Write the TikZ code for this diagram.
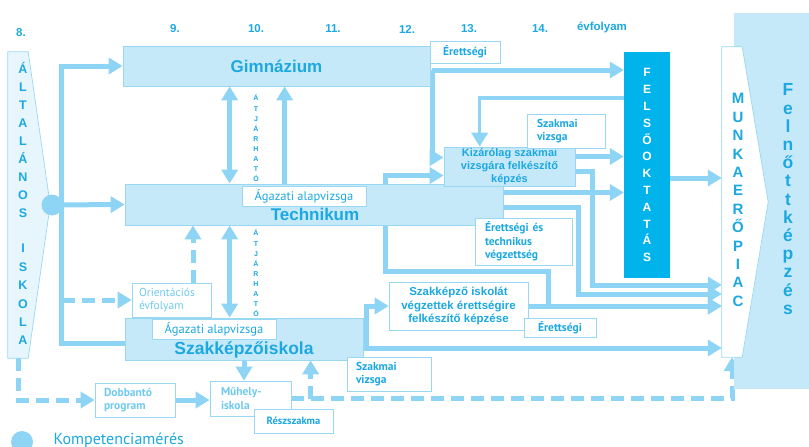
\documentclass[tikz,border=0pt]{standalone}
\usepackage{fontspec}
\setmainfont{Liberation Sans}
\newfontfamily\ptsans{PT Sans}
\usetikzlibrary{arrows.meta,calc}
\definecolor{arr}{HTML}{8DD4F5}
\definecolor{boxfill}{HTML}{C6E9F9}
\definecolor{boxline}{HTML}{98D8F3}
\definecolor{txt}{HTML}{1CA8E1}
\definecolor{pale}{HTML}{70CAEF}
\definecolor{felso}{HTML}{00B3EA}
\definecolor{altfill}{HTML}{E7F6FD}
\pgfdeclarelayer{bg}
\pgfsetlayers{bg,main}
\tikzset{
  box/.style={draw=boxline, fill=boxfill, line width=0.7pt, inner sep=0pt, text=txt},
  tag/.style={draw=boxline, fill=white, line width=0.7pt, inner ysep=0pt, text=txt,
    font=\ptsans\bfseries\fontsize{11.5}{13.5}\selectfont},
  flow/.style={draw=arr, line width=5pt, -{Triangle[length=14pt,width=16pt]}},
  both/.style={flow, {Triangle[length=14pt,width=16pt]}-{Triangle[length=14pt,width=16pt]}},
  dflow/.style={flow, dash pattern=on 13pt off 7pt},
  yr/.style={text=txt, font=\bfseries\fontsize{11.5}{13}\selectfont},
  vl/.style={inner sep=0pt, text height=1.5ex, text depth=0pt, text=txt,
    font=\bfseries\fontsize{12.5}{12.5}\selectfont},
}
\begin{document}
\begin{tikzpicture}[x=1pt,y=-1pt]
\useasboundingbox (0,0) rectangle (809,447);

% years
\node[yr] (yr0) at (21,33) {8.};
\foreach \x/\t [count=\i] in {175/9.,256/10.,333/11.,407/12.,469/13.,540/14.}
  \node[yr] (yr\i) at (\x,29) {\t};
\node[yr] (evf) at (602,27) {évfolyam};

% adult education
\node[fill=boxfill, minimum width=75, minimum height=376, inner sep=0pt] (felnott) at (771.5,201) {};
\foreach \c [count=\i from 0] in {F,e,l,n,ő,t,t,k,é,p,z,é,s}
  \node[vl, font=\bfseries\fontsize{17.5}{17.5}\selectfont] (fk\i) at (788,{92+18.2*\i}) {\c};

% labour market
\node[minimum width=20, minimum height=310, inner sep=0pt] (munka) at (732,202) {};
\draw[draw=boxline, fill=white, line width=0.7pt] (munka.north west) -- (munka.north east)
  -- ($(munka.east)+(26,0)$) -- (munka.south east) -- (munka.south west) -- cycle;
\foreach \c [count=\i from 0] in {M,U,N,K,A,E,R,Ő,P,I,A,C}
  \node[vl, font=\bfseries\fontsize{15}{15}\selectfont] (mp\i) at (738,{100+18.4*\i}) {\c};

% primary school
\node[minimum width=20, minimum height=306, inner sep=0pt] (alt) at (18,205) {};
\draw[draw=boxline, fill=altfill, line width=0.7pt] (alt.north west) -- (alt.north east)
  -- ($(alt.east)+(22,0)$) -- (alt.south east) -- (alt.south west) -- cycle;
\foreach \c [count=\i from 0] in {Á,L,T,A,L,Á,N,O,S}
  \node[vl] (ai\i) at (23,{70+18*\i}) {\c};
\foreach \c [count=\i from 0] in {I,S,K,O,L,A}
  \node[vl] (ak\i) at (23,{249+18.4*\i}) {\c};
\node[circle, fill=arr, minimum size=21, inner sep=0pt] (kompet) at (52,205) {};

% schools
\node[box, minimum width=307, minimum height=40, font=\bfseries\fontsize{17}{18}\selectfont] (gim) at (276.5,66) {Gimnázium};
\node[box, minimum width=378, minimum height=41] (tech) at (314,204.5) {};
\node[text=txt, font=\bfseries\fontsize{17}{18}\selectfont] (techlbl) at (315,214) {Technikum};
\node[box, minimum width=238, minimum height=42] (szk) at (244,339) {};
\node[text=txt, font=\bfseries\fontsize{17.5}{18}\selectfont] (szklbl) at (244,350) {Szakképzőiskola};
\node[box, minimum width=131, minimum height=39, align=center, font=\bfseries\fontsize{11}{13}\selectfont] (kiz) at (509.5,166.5) {Kizárólag szakmai\\vizsgára felkészítő\\képzés};
\node[fill=felso, minimum width=46, minimum height=226, inner sep=0pt] (felso) at (647,165) {};
\foreach \c [count=\i from 0] in {F,E,L,S,Ő,O,K,T,A,T,Á,S}
  \node[vl, text=white, font=\bfseries\fontsize{12}{12}\selectfont] (fo\i) at (647,{73+16.8*\i}) {\c};
\node[tag, minimum width=139, minimum height=48, align=center, font=\bfseries\fontsize{11.5}{13.5}\selectfont] (szki) at (458.5,306) {Szakképző iskolát\\végzettek érettségire\\felkészítő képzése};

% labels
\node[tag, minimum width=70, minimum height=22] (eretts1) at (465,52) {Érettségi};
\node[tag, minimum height=34, inner xsep=10pt, text width=58pt, align=left] (vizsga1) at (566,131) {Szakmai\\vizsga};
\node[tag, minimum width=124, minimum height=20, font=\ptsans\fontsize{12.5}{14}\selectfont] (agazat1) at (304,196) {Ágazati alapvizsga};
\node[tag, minimum height=47, inner xsep=10pt, text width=77pt, align=left] (erettes) at (523.5,241.5) {Érettségi és\\technikus\\végzettség};
\node[tag, minimum height=34, inner xsep=7pt, text width=65pt, align=left, text=pale, font=\ptsans\fontsize{11.5}{13.5}\selectfont] (orient) at (171.5,300) {Orientációs\\évfolyam};
\node[tag, minimum width=124, minimum height=20, font=\ptsans\fontsize{12.5}{14}\selectfont] (agazat2) at (214,329) {Ágazati alapvizsga};
\node[tag, minimum width=72, minimum height=19] (eretts2) at (560,327.5) {Érettségi};
\node[tag, minimum height=34, inner xsep=9pt, text width=66pt, align=left] (vizsga2) at (389,374) {Szakmai\\vizsga};
\node[tag, minimum height=34, inner xsep=9pt, text width=62pt, align=left, text=pale] (dobb) at (135,400) {Dobbantó\\program};
\node[tag, minimum height=35, inner xsep=11pt, text width=59pt, align=left, text=pale] (muhely) at (250.5,398.5) {Műhely-\\iskola};
\node[tag, minimum width=79, minimum height=24, font=\ptsans\bfseries\fontsize{10.5}{12}\selectfont] (resz) at (293.5,421) {Részszakma};

% permeable
\foreach \c [count=\i from 0] in {Á,T,J,Á,R,H,A,T,Ó} {
  \node[vl, font=\bfseries\fontsize{7}{7}\selectfont] (at\i) at (256,{97+10.1*\i}) {\c};
  \node[vl, font=\bfseries\fontsize{7}{7}\selectfont] (ab\i) at (256,{232+10.1*\i}) {\c};
}

% legend
\node[circle, fill=arr, minimum size=22, inner sep=0pt] (legdot) at (22,442) {};
\node[anchor=west, text=txt, font=\ptsans\fontsize{16}{18}\selectfont] (legtxt) at (50,440) {Kompetenciamérés};

\begin{pgfonlayer}{bg}
% from primary school
\coordinate (trunk) at ($(alt.east)+(34,0)$);
\coordinate (trunkbot) at ($(szk.west)+(-63,4)$);
\draw[flow] (trunkbot -| szk.west) -- (trunkbot) |- (gim.west);
\draw[flow] (kompet) -- (tech.west);
\draw[dflow] (trunk |- orient.west) -- (orient.west);
% gimnazium
\coordinate (gimout) at ($(gim.east)+(2,4)$);
\draw[flow] (gimout) -- (gimout -| felso.west);
\coordinate (kizin1) at ($(kiz.west)+(0,-9)$);
\draw[flow] (gimout) |- (kizin1);
\coordinate (felsoback) at ($(felso.north west)+(0,46)$);
\coordinate (kiztop) at ($(kiz.north west)+(36,0)$);
\draw[flow, line width=3.5pt] (felsoback) -| (kiztop);
% kizarolag
\coordinate (kizout1) at ($(kiz.east)+(0,-10)$);
\draw[flow] (kizout1) -- (kizout1 -| felso.west);
\coordinate (kizout2) at ($(kiz.east)+(0,5)$);
\coordinate (munka1) at ($(munka.west)+(0,83)$);
\draw[flow] (kizout2) -- ++(17,0) |- (munka1);
% technikum
\coordinate (techout1) at ($(tech.east)+(0,-12)$);
\draw[flow] (techout1) -- (techout1 -| felso.west);
\coordinate (techout2) at ($(tech.east)+(0,3)$);
\coordinate (munka2) at ($(munka.west)+(0,92)$);
\draw[flow] (techout2) -- ++(75,0) |- (munka2);
\coordinate (techup) at ($(tech.north)+(71,0)$);
\coordinate (kizin2) at ($(kiz.west)+(0,9)$);
\draw[flow] (techup) |- (kizin2);
\coordinate (techdown) at ($(tech.south)+(71,0)$);
\draw[flow] (techdown) -- ++(0,46) -- ++(163,0) |- (szki.east -| munka.west);
\draw[flow] (szki.east) -- (szki.east -| munka.west);
\coordinate (felsoout) at ($(felso.east)+(0,13)$);
\draw[flow] (felsoout) -- (felsoout -| munka.west);
% between schools
\coordinate (gimdn) at ($(gim.south west)+(107,0)$);
\draw[both] (gimdn) -- (gimdn |- tech.north);
\coordinate (techgim) at ($(tech.north west)+(160,0)$);
\draw[flow] (techgim) -- (techgim |- gim.south);
\coordinate (techszk) at ($(tech.south west)+(105,0)$);
\draw[both] (techszk) -- (techszk |- szk.north);
\coordinate (orup) at ($(orient.north)+(21.5,0)$);
\draw[dflow] (orup) -- (orup |- tech.south);
% szakkepzo iskola
\coordinate (szkout) at ($(szk.east)+(0,9)$);
\draw[flow] (szkout) -- (szkout -| munka.west);
\draw[flow] ($(szkout)+(3,0)$) |- (szki.west);
\draw[flow] (szk.south) -- (szk.south |- muhely.north);
% bottom
\draw[dflow] (alt.south) |- (dobb.west);
\draw[flow] (dobb.east) -- (dobb.east -| muhely.west);
\draw[dflow] (muhely.east) -| (munka.south);
\coordinate (szkup) at ($(szk.south west)+(186,0)$);
\draw[dflow] (szkup |- muhely.east) -- (szkup);
\end{pgfonlayer}
\end{tikzpicture}
\end{document}
